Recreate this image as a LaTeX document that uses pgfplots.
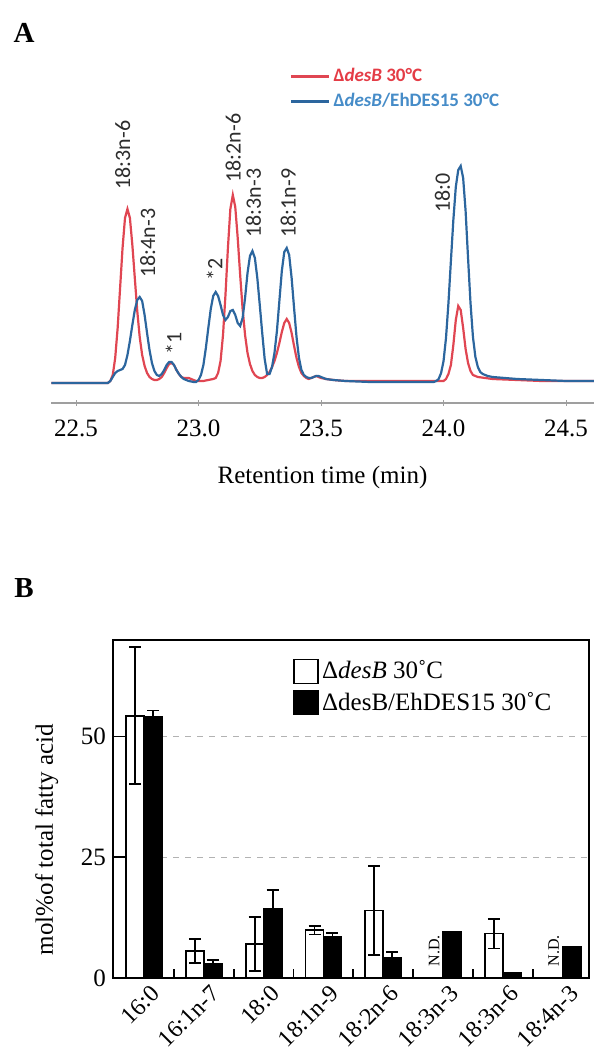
\documentclass[border=0pt]{standalone}
\usepackage{pgfplots}
\pgfplotsset{compat=1.18}
\usepackage{fontspec}
\setmainfont{Liberation Serif}
\newfontfamily\carlito{Carlito}
\definecolor{dsred}{RGB}{224,70,82}
\definecolor{dsblue}{RGB}{44,102,158}
\definecolor{lgred}{RGB}{228,60,70}
\definecolor{lgblue}{RGB}{70,140,200}
\definecolor{lbl}{RGB}{45,45,45}
\tikzset{lab/.style={font=\carlito\fontsize{11}{13}\selectfont, text=lbl, inner sep=1pt, rotate=90, anchor=west}}
\begin{document}
\begin{tikzpicture}
\path[use as bounding box] (0,0) rectangle (297pt,527.5pt);
\node[font=\fontsize{14.5}{16}\selectfont\bfseries] at (12pt,511pt) {A};
\node[font=\fontsize{14.5}{16}\selectfont\bfseries] at (12pt,233.5pt) {B};
% ---------------- Panel A ----------------
\begin{axis}[
  at={(25.5pt,326pt)}, anchor=south west, scale only axis,
  width=271.5pt, height=135pt,
  xmin=22.398, xmax=24.614, ymin=-20, ymax=250,
  axis x line*=bottom, axis y line=none, clip=false,
  axis line style={gray!75, line width=0.6pt, -},
  xtick={22.5,23,23.5,24,24.5}, xtick align=center, major tick length=3pt,
  tick style={gray!75},
  /pgf/number format/assume math mode=true,
  xticklabel style={font=\fontsize{12.5}{14}\selectfont, anchor=center, yshift=-11pt,
    /pgf/number format/fixed, /pgf/number format/fixed zerofill, /pgf/number format/precision=1},
  xlabel={Retention time (min)},
  xlabel style={at={(axis description cs:0.5,0)}, anchor=center, yshift=-37pt, font=\fontsize{12.5}{14}\selectfont},
  legend style={at={(axis description cs:0.4383,1.163)}, anchor=west, draw=none, fill=none,
    inner sep=0pt, row sep=1pt, font=\carlito\bfseries\fontsize{9.5}{11}\selectfont,
    nodes={inner sep=1.5pt}},
  legend cell align=left,
  legend image code/.code={\draw[#1, line width=1.6pt] (0pt,0pt) -- (19pt,0pt);},
]
\addplot[dsred, line width=1.1pt, no marks] coordinates {
(22.40,0) (22.63,0) (22.64,2) (22.65,8) (22.66,25) (22.67,55) (22.68,95) (22.69,135) (22.70,165) (22.71,174) (22.72,165) (22.73,138) (22.74,105) (22.75,72) (22.76,46) (22.77,28) (22.78,17) (22.79,10) (22.80,6) (22.81,4) (22.82,3) (22.83,3) (22.84,4) (22.85,6) (22.86,10) (22.87,15) (22.88,19) (22.89,20) (22.90,18) (22.91,13) (22.92,9) (22.93,6) (22.94,5) (22.95,5) (22.96,5) (22.97,4) (22.98,3) (22.99,2) (23.00,2) (23.02,2) (23.04,3) (23.06,4) (23.07,5) (23.08,10) (23.09,22) (23.10,48) (23.11,88) (23.12,135) (23.13,174) (23.14,188) (23.15,176) (23.16,145) (23.17,108) (23.18,74) (23.19,48) (23.20,30) (23.21,19) (23.22,12) (23.23,8) (23.24,6) (23.25,5) (23.26,5) (23.27,6) (23.28,8) (23.29,11) (23.30,16) (23.31,22) (23.32,30) (23.33,40) (23.34,51) (23.35,60) (23.36,64) (23.37,60) (23.38,50) (23.39,37) (23.40,25) (23.41,16) (23.42,10) (23.43,7) (23.44,5) (23.45,4) (23.46,5) (23.47,6) (23.48,7) (23.49,6) (23.50,5) (23.52,4) (23.55,3) (23.60,2) (23.98,2) (24.00,2) (24.01,4) (24.02,9) (24.03,18) (24.04,38) (24.05,63) (24.06,77) (24.07,73) (24.08,55) (24.09,34) (24.10,20) (24.11,12) (24.12,8) (24.14,6) (24.20,4) (24.30,3) (24.40,2) (24.614,2)
};
\addlegendentry{\textcolor{lgred}{Δ\textit{desB} 30°C}}
\addplot[dsblue, line width=1.1pt, no marks] coordinates {
(22.40,0) (22.63,0) (22.64,2) (22.65,6) (22.66,10) (22.67,12) (22.68,13) (22.69,14) (22.70,18) (22.71,28) (22.72,42) (22.73,58) (22.74,73) (22.75,83) (22.76,86) (22.77,82) (22.78,68) (22.79,50) (22.80,33) (22.81,20) (22.82,12) (22.83,8) (22.84,7) (22.85,9) (22.86,13) (22.87,18) (22.88,21) (22.89,21) (22.90,18) (22.91,13) (22.92,9) (22.93,6) (22.94,4) (22.95,3) (22.96,2) (22.98,1) (22.99,1) (23.00,3) (23.01,8) (23.02,18) (23.03,35) (23.04,55) (23.05,74) (23.06,87) (23.07,91) (23.08,87) (23.09,78) (23.10,68) (23.11,63) (23.12,66) (23.13,72) (23.14,73) (23.15,68) (23.16,60) (23.17,57) (23.18,65) (23.19,85) (23.20,110) (23.21,127) (23.22,132) (23.23,125) (23.24,105) (23.25,78) (23.26,50) (23.27,24) (23.28,9) (23.29,9) (23.30,16) (23.31,30) (23.32,52) (23.33,82) (23.34,112) (23.35,131) (23.36,135) (23.37,128) (23.38,105) (23.39,75) (23.40,46) (23.41,25) (23.42,13) (23.43,8) (23.44,6) (23.45,5) (23.46,5) (23.47,6) (23.48,7) (23.49,7) (23.50,6) (23.52,4) (23.55,3) (23.60,2) (23.70,1) (23.90,1) (23.96,1) (23.97,2) (23.98,4) (23.99,10) (24.00,22) (24.01,45) (24.02,80) (24.03,122) (24.04,163) (24.05,196) (24.06,213) (24.07,217) (24.08,205) (24.09,172) (24.10,125) (24.11,80) (24.12,46) (24.13,26) (24.14,16) (24.15,11) (24.16,9) (24.18,7) (24.20,6) (24.25,5) (24.30,4) (24.40,3) (24.50,2) (24.614,2)
};
\addlegendentry{\textcolor{lgblue}{Δ\textit{desB}/EhDES15 30°C}}
\node[lab] at (axis cs:22.691,191) {18:3n-6};
\node[lab] at (axis cs:22.793,103) {18:4n-3};
\node[lab] at (axis cs:22.898,26) {*1};
\node[lab] at (axis cs:23.065,100) {*2};
\node[lab] at (axis cs:23.142,198) {18:2n-6};
\node[lab] at (axis cs:23.224,143) {18:3n-3};
\node[lab] at (axis cs:23.366,143) {18:1n-9};
\node[lab] at (axis cs:23.996,168) {18:0};
\end{axis}
% ---------------- Panel B ----------------
\begin{axis}[
  at={(56.5pt,38.5pt)}, anchor=south west, scale only axis,
  width=238pt, height=169pt,
  xmin=-0.52, xmax=7.44, ymin=0, ymax=70,
  axis line style={line width=0.9pt},
  xtick={0,...,7},
  xticklabels={16:0,16:1n-7,18:0,18:1n-9,18:2n-6,18:3n-3,18:3n-6,18:4n-3},
  minor xtick={0.5,1.5,2.5,3.5,4.5,5.5,6.5},
  xtick pos=bottom, ytick pos=left, tick align=inside,
  major x tick style={draw=none},
  minor x tick style={line width=0.9pt, black},
  minor tick length=4.5pt,
  ytick={0,25,50}, major tick length=6pt,
  y tick style={line width=0.9pt, black},
  ymajorgrids, grid style={dashed, gray!60, line width=0.5pt},
  /pgf/number format/assume math mode=true,
  yticklabel style={font=\fontsize{12.5}{14}\selectfont},
  xticklabel style={font=\fontsize{12}{14}\selectfont, rotate=45, anchor=north east, inner sep=1pt, yshift=-3pt, xshift=1pt},
  ylabel={mol\%of total fatty acid},
  ylabel style={at={(axis description cs:-0.139,0.41)}, anchor=center, font=\fontsize{12.5}{14}\selectfont},
  legend style={at={(axis description cs:0.378,0.861)}, anchor=west, draw=none, fill=none,
    inner sep=0pt, row sep=2pt, font=\fontsize{12.5}{14}\selectfont, nodes={inner sep=1.5pt},
    /tikz/every even column/.append style={column sep=5pt}},
  legend cell align=left,
  clip=false,
]
\addplot[ybar, bar width=0.3, bar shift=0, fill=white, draw=black, line width=0.9pt,
  legend image code/.code={\draw[fill=white, draw=black, line width=0.9pt] (0pt,-6pt) rectangle (12pt,6pt);},
  error bars/.cd, y dir=both, y explicit,
  error bar style={line width=0.9pt, black},
  error mark options={rotate=90, line width=0.9pt, mark size=3pt, black}]
coordinates {
(-0.15,54.3) +- (0,14.2)
(0.85,5.6) +- (0,2.5)
(1.85,7.1) +- (0,5.6)
(2.85,9.9) +- (0,0.9)
(3.85,14.0) +- (0,9.2)
(5.85,9.2) +- (0,3.1)
};
\addlegendentry{Δ\textit{desB} 30˚C}
\addplot[ybar, bar width=0.3, bar shift=0, fill=black, draw=black, line width=0.9pt,
  legend image code/.code={\draw[fill=black, draw=black, line width=0.9pt] (0pt,-6pt) rectangle (12pt,6pt);},
  error bars/.cd, y dir=plus, y explicit,
  error bar style={line width=0.9pt, black},
  error mark options={rotate=90, line width=0.9pt, mark size=3pt, black}]
coordinates {
(0.15,54.0) +- (0,1.4)
(1.15,2.9) +- (0,0.9)
(2.15,14.4) +- (0,3.9)
(3.15,8.6) +- (0,0.8)
(4.15,4.2) +- (0,1.2)
(5.15,9.6) +- (0,0)
(6.15,1.0) +- (0,0)
(7.15,6.5) +- (0,0)
};
\addlegendentry{ΔdesB/EhDES15 30˚C}
\node[rotate=90, anchor=west, font=\fontsize{8}{9}\selectfont, inner sep=0pt] at (axis cs:4.85,2.3) {N.D.};
\node[rotate=90, anchor=west, font=\fontsize{8}{9}\selectfont, inner sep=0pt] at (axis cs:6.85,2.3) {N.D.};
\end{axis}
\end{tikzpicture}
\end{document}
